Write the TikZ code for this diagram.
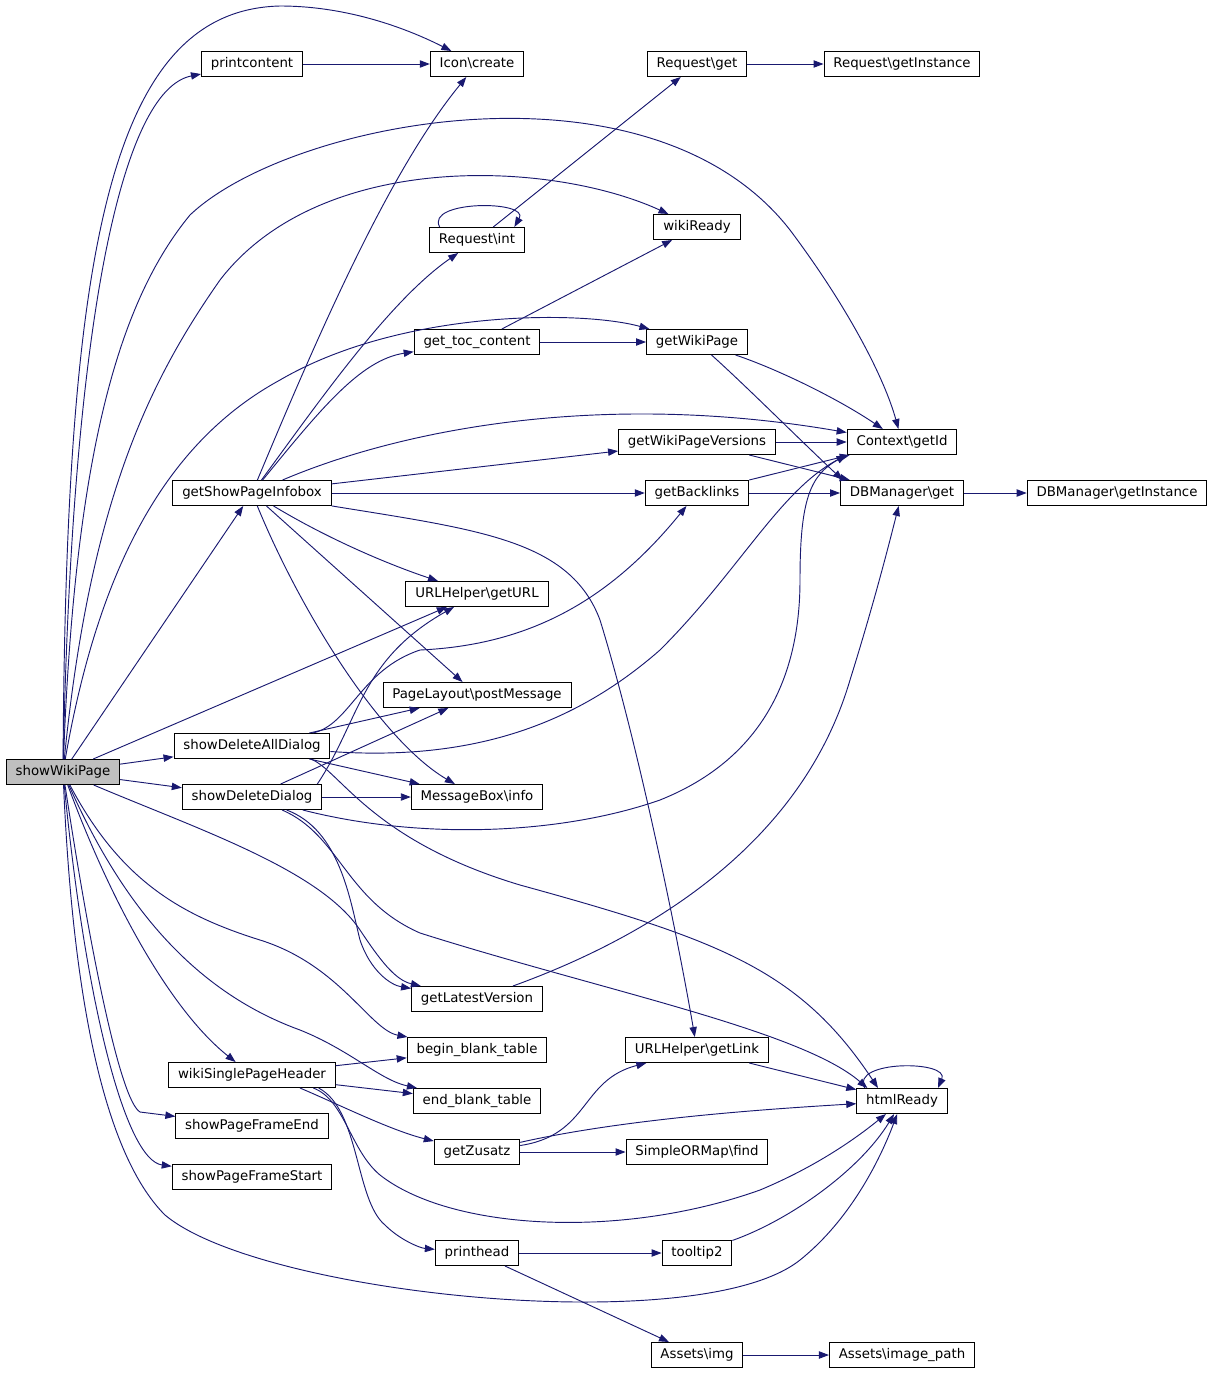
\documentclass[tikz,border=0pt]{standalone}
\usepackage{fontspec}
\setmainfont{DejaVu Sans}
\usepackage{tikz}
\usetikzlibrary{arrows.meta}
\definecolor{callblue}{HTML}{191970}
\newcommand{\bsl}{\textbackslash}

\begin{document}
\begin{tikzpicture}[->,>={Triangle[length=7.5pt,width=5.5pt]},x=0.75pt,y=-0.75pt,
	line width=0.7pt,draw=callblue]
	\tikzstyle{fn}=[draw=black,fill=white,text=black,font=\fontsize{10}{12}\selectfont,
	minimum height=18.75pt,inner xsep=7pt,inner ysep=0pt,text height=7.4pt,text depth=2.2pt,line width=0.75pt]
	\useasboundingbox (0,0) rectangle (1212,1374);
	
	\node[fn,fill=gray!50] (wiki)       at (63,772)   {showWikiPage};
	\node[fn]              (prtcontent) at (252,64)   {printcontent};
	\node[fn]              (iconcreate) at (477,64)   {Icon\bsl{}create};
	\node[fn]              (reqget)     at (697,64)   {Request\bsl{}get};
	\node[fn]              (reqinst)    at (902,64)   {Request\bsl{}getInstance};
	\node[fn]              (reqint)     at (477,240)  {Request\bsl{}int};
	\node[fn]              (wikiready)  at (697,227)  {wikiReady};
	\node[fn]              (toc)        at (477,342)  {get\_toc\_content};
	\node[fn]              (wikipage)   at (697,342)  {getWikiPage};
	\node[fn]              (versions)   at (697,442)  {getWikiPageVersions};
	\node[fn]              (ctxid)      at (902,442)  {Context\bsl{}getId};
	\node[fn]              (infobox)    at (252,493)  {getShowPageInfobox};
	\node[fn]              (backlinks)  at (697,493)  {getBacklinks};
	\node[fn]              (dbget)      at (902,493)  {DBManager\bsl{}get};
	\node[fn]              (dbinst)     at (1117,493) {DBManager\bsl{}getInstance};
	\node[fn]              (geturl)     at (477,594)  {URLHelper\bsl{}getURL};
	\node[fn]              (postmsg)    at (477,695)  {PageLayout\bsl{}postMessage};
	\node[fn]              (delall)     at (252,746)  {showDeleteAllDialog};
	\node[fn]              (deldlg)     at (252,797)  {showDeleteDialog};
	\node[fn]              (msginfo)    at (477,797)  {MessageBox\bsl{}info};
	\node[fn]              (latest)     at (477,999)  {getLatestVersion};
	\node[fn]              (beginbt)    at (477,1050) {begin\_blank\_table};
	\node[fn]              (getlink)    at (697,1050) {URLHelper\bsl{}getLink};
	\node[fn]              (header)     at (252,1075) {wikiSinglePageHeader};
	\node[fn]              (endbt)      at (477,1101) {end\_blank\_table};
	\node[fn]              (htmlready)  at (902,1101) {htmlReady};
	\node[fn]              (frameend)   at (252,1126) {showPageFrameEnd};
	\node[fn]              (zusatz)     at (477,1152) {getZusatz};
	\node[fn]              (ormfind)    at (697,1152) {SimpleORMap\bsl{}find};
	\node[fn]              (framestart) at (252,1177) {showPageFrameStart};
	\node[fn]              (printhead)  at (477,1253) {printhead};
	\node[fn]              (tooltip)    at (697,1253) {tooltip2};
	\node[fn]              (assetimg)   at (697,1355) {Assets\bsl{}img};
	\node[fn]              (imgpath)    at (902,1355) {Assets\bsl{}image\_path};
	
	% straight calls
	\path (wiki) edge (infobox)
	edge (geturl)
	edge (delall)
	edge (deldlg)
	(prtcontent) edge (iconcreate)
	(reqget) edge (reqinst)
	(reqint) edge (reqget)
	(toc) edge (wikiready)
	edge (wikipage)
	(versions) edge (ctxid)
	edge (dbget)
	(backlinks) edge (ctxid)
	edge (dbget)
	(dbget) edge (dbinst)
	(infobox) edge (versions)
	edge (backlinks)
	edge (postmsg)
	(delall) edge (postmsg)
	edge (msginfo)
	(deldlg) edge (msginfo)
	edge (postmsg)
	(getlink) edge (htmlready)
	(header) edge (beginbt)
	edge (endbt)
	(zusatz) edge (ormfind)
	(printhead) edge (tooltip)
	edge (assetimg)
	(assetimg) edge (imgpath);
	
	% showWikiPage
	\draw (wiki) .. controls (72,330) and (120,90) .. (prtcontent);
	\draw (wiki) .. controls (66,250) and (110,10) .. (280,6) .. controls (350,6) and (410,30) .. (iconcreate);
	\draw (wiki) .. controls (75,450) and (120,300) .. (190,215) .. controls (290,120) and (650,50) .. (790,230) .. controls (850,310) and (885,380) .. (ctxid);
	\draw (wiki) .. controls (90,500) and (150,380) .. (220,280) .. controls (320,150) and (550,160) .. (wikiready);
	\draw (wiki) .. controls (100,560) and (170,440) .. (280,380) .. controls (400,310) and (580,310) .. (wikipage);
	\draw (wiki) .. controls (200,830) and (320,870) .. (360,930) .. controls (380,960) and (395,980) .. (latest);
	\draw (wiki) .. controls (120,880) and (180,915) .. (260,940) .. controls (340,965) and (370,1030) .. (beginbt);
	\draw (wiki) .. controls (120,900) and (190,990) .. (300,1030) .. controls (350,1050) and (380,1080) .. (endbt);
	\draw (wiki) .. controls (110,900) and (170,1010) .. (header);
	\draw (wiki) .. controls (90,950) and (120,1100) .. (140,1112) -- (frameend);
	\draw (wiki) .. controls (85,1000) and (125,1160) .. (framestart);
	\draw (wiki) .. controls (72,980) and (100,1150) .. (165,1215) .. controls (260,1295) and (700,1340) .. (800,1260) .. controls (850,1220) and (880,1160) .. (htmlready);
	
	% self calls
	\draw ([xshift=-28pt]reqint.north) .. controls (425,200) and (530,200) .. ([xshift=28pt]reqint.north);
	\draw ([xshift=-28pt]htmlready.north) .. controls (850,1060) and (950,1060) .. ([xshift=27pt]htmlready.north);
	
	% getShowPageInfobox
	\draw (infobox) .. controls (320,330) and (390,170) .. (iconcreate);
	\draw (infobox) .. controls (320,400) and (390,300) .. (reqint);
	\draw (infobox) .. controls (320,410) and (360,360) .. (toc);
	\draw (infobox) .. controls (400,430) and (600,390) .. (ctxid);
	\draw (infobox) .. controls (480,530) and (570,540) .. (600,620) .. controls (640,750) and (680,950) .. (getlink);
	\draw (infobox) .. controls (330,540) and (390,565) .. (geturl);
	\draw (infobox) .. controls (300,610) and (380,740) .. (msginfo);
	
	% getWikiPage, getLatestVersion
	\draw (wikipage) .. controls (780,370) and (840,400) .. (ctxid);
	\draw (wikipage) .. controls (745,385) and (800,440) .. ([xshift=2pt]dbget.north west);
	\draw (latest) .. controls (640,940) and (800,850) .. (850,680) .. controls (875,600) and (890,540) .. (dbget);
	
	% showDeleteAllDialog
	\draw (delall) .. controls (350,725) and (360,670) .. (420,650) .. controls (530,645) and (610,600) .. (backlinks);
	\draw (delall) .. controls (480,762) and (580,720) .. (660,650) .. controls (740,570) and (780,490) .. (ctxid.south west);
	\draw ([xshift=44pt]delall.south) .. controls (340,770) and (370,840) .. (520,885) .. controls (720,940) and (800,970) .. ([xshift=-18pt]htmlready.north);
	
	% showDeleteDialog
	\draw ([xshift=49pt]deldlg.north) .. controls (360,720) and (360,660) .. (geturl);
	\draw (deldlg) .. controls (420,840) and (560,835) .. (660,800) .. controls (760,760) and (800,680) .. (800,580) .. controls (800,500) and (810,475) .. (ctxid.south west);
	\draw (deldlg) .. controls (340,830) and (350,900) .. (360,940) .. controls (370,970) and (390,985) .. (latest);
	\draw (deldlg) .. controls (340,835) and (345,900) .. (420,933) .. controls (600,990) and (800,1030) .. ([xshift=-26pt]htmlready.north);
	
	% wikiSinglePageHeader
	\draw ([xshift=36pt]header.south) .. controls (340,1105) and (390,1130) .. (zusatz);
	\draw ([xshift=46pt]header.south) .. controls (345,1100) and (350,1150) .. (380,1175) .. controls (450,1230) and (620,1240) .. (760,1190) .. controls (820,1165) and (860,1135) .. (htmlready);
	\draw ([xshift=50pt]header.south) .. controls (360,1110) and (355,1200) .. (385,1225) .. controls (400,1240) and (420,1248) .. (printhead);
	
	% getZusatz, tooltip2
	\draw (zusatz) .. controls (590,1135) and (580,1080) .. (getlink);
	\draw (zusatz) .. controls (620,1120) and (750,1110) .. (htmlready);
	\draw (tooltip) .. controls (790,1220) and (860,1170) .. (htmlready);
	
\end{tikzpicture}
\end{document}
